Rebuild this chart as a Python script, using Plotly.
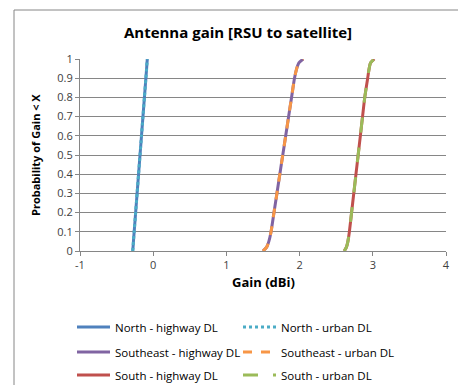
import plotly.graph_objects as go

prob = [0, 0.02, 0.05, 0.1, 0.2, 0.3, 0.4, 0.5, 0.6, 0.7, 0.8, 0.9, 0.95, 0.98, 1.0]

north_highway = [-0.28, -0.275, -0.27, -0.26, -0.24, -0.22, -0.20, -0.18, -0.16, -0.14, -0.12, -0.10, -0.09, -0.085, -0.08]
north_urban = [-0.28, -0.275, -0.27, -0.26, -0.24, -0.22, -0.20, -0.18, -0.16, -0.14, -0.12, -0.10, -0.09, -0.085, -0.08]
southeast_highway = [1.50, 1.55, 1.58, 1.61, 1.65, 1.69, 1.73, 1.77, 1.81, 1.85, 1.89, 1.93, 1.96, 1.99, 2.05]
southeast_urban = [1.50, 1.55, 1.58, 1.61, 1.65, 1.69, 1.73, 1.77, 1.81, 1.85, 1.89, 1.93, 1.96, 1.99, 2.05]
south_highway = [2.61, 2.64, 2.66, 2.68, 2.71, 2.74, 2.77, 2.80, 2.83, 2.86, 2.89, 2.93, 2.95, 2.97, 3.02]
south_urban = [2.61, 2.64, 2.66, 2.68, 2.71, 2.74, 2.77, 2.80, 2.83, 2.86, 2.89, 2.93, 2.95, 2.97, 3.02]

x_ticks = [-1, 0, 1, 2, 3, 4]
x_ticklabels = ["-1", "0", "1", "2", "3", "4"]
y_ticks = [0, 0.1, 0.2, 0.3, 0.4, 0.5, 0.6, 0.7, 0.8, 0.9, 1]
y_ticklabels = ["0", "0.1", "0.2", "0.3", "0.4", "0.5", "0.6", "0.7", "0.8", "0.9", "1"]

series = [
    ("North - highway DL", north_highway, "#4F81BD", "solid", "legend"),
    ("North - urban DL", north_urban, "#4BACC6", "dot", "legend"),
    ("Southeast - highway DL", southeast_highway, "#8064A2", "solid", "legend2"),
    ("Southeast - urban DL", southeast_urban, "#F79646", "dash", "legend2"),
    ("South - highway DL", south_highway, "#C0504D", "solid", "legend3"),
    ("South - urban DL", south_urban, "#9BBB59", "longdash", "legend3"),
]

FONT = "Open Sans"

fig = go.Figure()
for name, xs, color, dash, lg in series:
    fig.add_trace(go.Scatter(
        x=xs, y=prob, mode="lines", name=name, legend=lg,
        line=dict(color=color, width=3, dash=dash, shape="spline", smoothing=0.6),
    ))

W, H = 458, 385
L, R, T, B = 80, 12, 59, 134
pw, ph = W - L - R, H - T - B

def px_x(p):
    return (p - L) / pw

def px_y(p):
    return (H - B - p) / ph

def legend_row(ypx):
    return dict(orientation="h", xref="container", yref="container",
                x=72 / W, xanchor="left", y=1 - ypx / H, yanchor="middle",
                entrywidth=118, entrywidthmode="pixels", itemwidth=33,
                bgcolor="rgba(0,0,0,0)",
                font=dict(size=11.5, color="#000000", family=FONT))

fig.update_layout(
    width=W, height=H,
    margin=dict(l=L, r=R, t=T, b=B, autoexpand=False),
    paper_bgcolor="white", plot_bgcolor="white",
    font=dict(family=FONT, size=11, color="#404040"),
    title=dict(text="<b>Antenna gain [RSU to satellite]</b>", x=238 / W, xanchor="center",
               xref="container", yref="container",
               y=1 - 33 / H, yanchor="middle", font=dict(size=15, color="#000000", family=FONT)),
    showlegend=True,
    legend=legend_row(327),
    legend2=legend_row(352),
    legend3=legend_row(375),
    xaxis=dict(range=[-1, 4], tickvals=x_ticks, ticktext=x_ticklabels, ticks="outside", ticklen=4,
               tickcolor="#868686", showline=True, linecolor="#868686", showgrid=False,
               zeroline=False, tickfont=dict(size=11, color="#404040"), automargin=False),
    yaxis=dict(range=[0, 1], tickvals=y_ticks, ticktext=y_ticklabels,
               ticks="outside", ticklen=4, tickcolor="#868686", showline=True, linecolor="#868686",
               showgrid=True, gridcolor="#868686", gridwidth=1, zeroline=False,
               tickfont=dict(size=11, color="#404040"), automargin=False),
    annotations=[
        dict(text="<b>Gain (dBi)</b>", x=0.5, y=px_y(282), xref="paper", yref="paper",
             showarrow=False, xanchor="center", yanchor="middle",
             font=dict(size=13, color="#000000", family=FONT)),
        dict(text="<b>Probability of Gain < X</b>", x=px_x(35), y=0.5, xref="paper", yref="paper",
             showarrow=False, textangle=-90, xanchor="center", yanchor="middle",
             font=dict(size=11, color="#000000", family=FONT)),
    ],
    shapes=[
        dict(type="line", xref="paper", yref="paper", x0=px_x(14), x1=px_x(14),
             y0=px_y(H + 5), y1=px_y(10), line=dict(color="#868686", width=1)),
        dict(type="line", xref="paper", yref="paper", x0=px_x(14), x1=px_x(W + 5),
             y0=px_y(10), y1=px_y(10), line=dict(color="#868686", width=1)),
    ],
)

fig.write_html(
    "out.html",
    config={"displayModeBar": False},
    post_script="document.body.style.margin='0';document.body.style.padding='0';document.body.style.overflow='hidden';",
)
